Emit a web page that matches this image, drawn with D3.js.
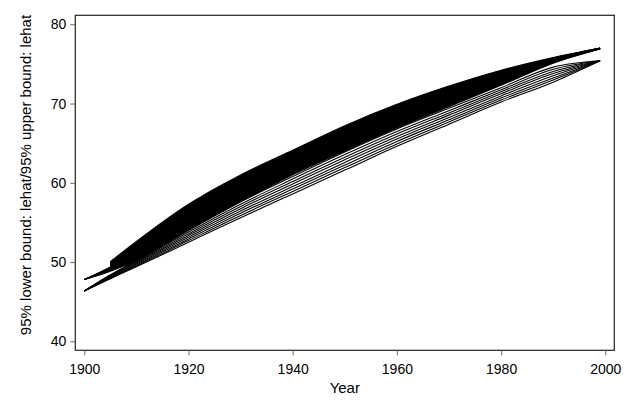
<!DOCTYPE html>
<html>
<head>
<meta charset="utf-8">
<script src="https://cdn.jsdelivr.net/npm/d3@7"></script>
<style>
  html, body { margin: 0; padding: 0; background: #fff; }
  svg { display: block; }
  text { font-family: Arial, "Liberation Sans", sans-serif; }
</style>
</head>
<body>
<svg id="chart" width="630" height="420"></svg>
<script>
// ---- data ----
const years = [1900, 1905, 1910, 1920, 1930, 1940, 1950, 1960, 1970, 1980, 1990, 1999];

// upper group of bound lines (ends near 77.0)
const groupA = [
  [null, 50.05, 52.60, 57.30, 61.00, 64.10, 67.20, 69.90, 72.20, 74.20, 75.80, 77.00],
  [null, 49.97, 52.43, 57.07, 60.76, 63.88, 66.98, 69.69, 72.02, 74.07, 75.75, 76.99],
  [null, 49.88, 52.26, 56.84, 60.52, 63.67, 66.75, 69.48, 71.84, 73.93, 75.70, 76.99],
  [null, 49.80, 52.10, 56.61, 60.29, 63.45, 66.53, 69.27, 71.65, 73.80, 75.65, 76.98],
  [null, 49.71, 51.93, 56.38, 60.05, 63.23, 66.30, 69.06, 71.47, 73.67, 75.60, 76.97],
  [null, 49.63, 51.76, 56.15, 59.81, 63.02, 66.08, 68.85, 71.29, 73.54, 75.56, 76.97],
  [null, 49.55, 51.59, 55.91, 59.57, 62.80, 65.86, 68.64, 71.11, 73.40, 75.51, 76.96],
  [null, 49.46, 51.42, 55.68, 59.33, 62.58, 65.63, 68.43, 70.93, 73.27, 75.46, 76.95],
  [47.80, 49.38, 51.26, 55.45, 59.10, 62.36, 65.41, 68.22, 70.74, 73.14, 75.41, 76.94],
  [47.80, 49.29, 51.09, 55.22, 58.86, 62.15, 65.18, 68.01, 70.56, 73.00, 75.36, 76.94],
  [47.80, 49.21, 50.92, 54.99, 58.62, 61.93, 64.96, 67.80, 70.38, 72.87, 75.31, 76.93],
  [47.80, 49.11, 50.73, 54.73, 58.35, 61.68, 64.70, 67.56, 70.17, 72.72, 75.25, 76.92],
  [47.80, 49.02, 50.54, 54.46, 58.08, 61.43, 64.45, 67.32, 69.96, 72.57, 75.20, 76.91],
  [47.80, 48.93, 50.37, 54.23, 57.84, 61.22, 64.22, 67.11, 69.78, 72.43, 75.15, 76.91],
  [47.80, 48.85, 50.20, 54.00, 57.60, 61.00, 64.00, 66.90, 69.60, 72.30, 75.10, 76.90]
];

// lower group of bound lines (ends near 75.4)
const groupB = [
  [46.35, 47.90, 49.40, 52.50, 55.60, 58.60, 61.60, 64.60, 67.40, 70.20, 72.70, 75.40],
  [46.35, 47.97, 49.51, 52.71, 55.88, 58.91, 61.92, 64.91, 67.68, 70.45, 72.97, 75.40],
  [46.35, 48.04, 49.62, 52.92, 56.16, 59.22, 62.24, 65.22, 67.96, 70.70, 73.23, 75.40],
  [46.35, 48.11, 49.74, 53.13, 56.44, 59.52, 62.57, 65.52, 68.24, 70.96, 73.50, 75.40],
  [46.35, 48.19, 49.86, 53.36, 56.74, 59.85, 62.91, 65.85, 68.54, 71.23, 73.78, 75.40],
  [46.35, 48.26, 49.97, 53.57, 57.02, 60.16, 63.23, 66.16, 68.82, 71.48, 74.05, 75.40],
  [46.35, 48.33, 50.08, 53.78, 57.30, 60.47, 63.56, 66.47, 69.10, 71.73, 74.32, 75.40],
  [46.35, 48.40, 50.20, 54.00, 57.60, 60.80, 63.90, 66.80, 69.40, 72.00, 74.60, 75.40]
];

const xTicks = [1900, 1920, 1940, 1960, 1980, 2000];
const yTicks = [40, 50, 60, 70, 80];
const xTitle = "Year";
const yTitle = "95% lower bound: lehat/95% upper bound: lehat";

// ---- layout ----
const svg = d3.select("#chart");
const frame = { left: 75.3, right: 614.3, top: 15.3, bottom: 350.3 };

const x = d3.scaleLinear().domain([1900, 2000]).range([84.3, 605.3]);
const y = d3.scaleLinear().domain([40, 80]).range([341.3, 24.3]);

svg.append("rect").attr("width", 630).attr("height", 420).attr("fill", "#fff");

const toPts = vals => years.map((yr, i) => [yr, vals[i]]);

// dense part of the upper group: filled between its outermost bound lines
const band = d3.area()
  .defined(d => d.hi != null && d.lo != null)
  .x(d => x(d.yr))
  .y0(d => y(d.lo))
  .y1(d => y(d.hi))
  .curve(d3.curveMonotoneX);

const topA = groupA[0];
const botA = groupA[groupA.length - 1];
svg.append("path")
  .attr("d", band(years.map((yr, i) => ({ yr, hi: topA[i], lo: botA[i] }))))
  .attr("fill", "#000");

// lines
const line = d3.line()
  .defined(d => d[1] != null)
  .x(d => x(d[0]))
  .y(d => y(d[1]))
  .curve(d3.curveMonotoneX);

svg.append("g")
  .selectAll("path")
  .data(groupB.concat(groupA))
  .join("path")
  .attr("d", vals => line(toPts(vals)))
  .attr("fill", "none")
  .attr("stroke", "#000")
  .attr("stroke-width", 1.1);

// frame
svg.append("rect")
  .attr("x", frame.left).attr("y", frame.top)
  .attr("width", frame.right - frame.left).attr("height", frame.bottom - frame.top)
  .attr("fill", "none").attr("stroke", "#222").attr("stroke-width", 1.2);

// axes
const yAxis = d3.axisLeft(y).tickValues(yTicks).tickSize(5).tickSizeOuter(0).tickPadding(4);
const gy = svg.append("g").attr("transform", `translate(${frame.left},0)`).call(yAxis);
gy.select(".domain").remove();
gy.selectAll(".tick line").attr("stroke", "#666");
gy.selectAll(".tick text").attr("font-size", 14).attr("fill", "#000")
  .attr("font-family", "Arial, 'Liberation Sans', sans-serif");

const xAxis = d3.axisBottom(x).tickValues(xTicks).tickFormat(d3.format("d")).tickSize(5).tickSizeOuter(0).tickPadding(8.5);
const gx = svg.append("g").attr("transform", `translate(0,${frame.bottom})`).call(xAxis);
gx.select(".domain").remove();
gx.selectAll(".tick line").attr("stroke", "#666");
gx.selectAll(".tick text").attr("font-size", 14).attr("fill", "#000")
  .attr("font-family", "Arial, 'Liberation Sans', sans-serif");

// titles
svg.append("text")
  .attr("x", (frame.left + frame.right) / 2).attr("y", 393)
  .attr("text-anchor", "middle").attr("font-size", 15).attr("fill", "#000")
  .text(xTitle);

svg.append("text")
  .attr("transform", "translate(31,175) rotate(-90)")
  .attr("text-anchor", "middle").attr("font-size", 15).attr("fill", "#000")
  .text(yTitle);
</script>
</body>
</html>
